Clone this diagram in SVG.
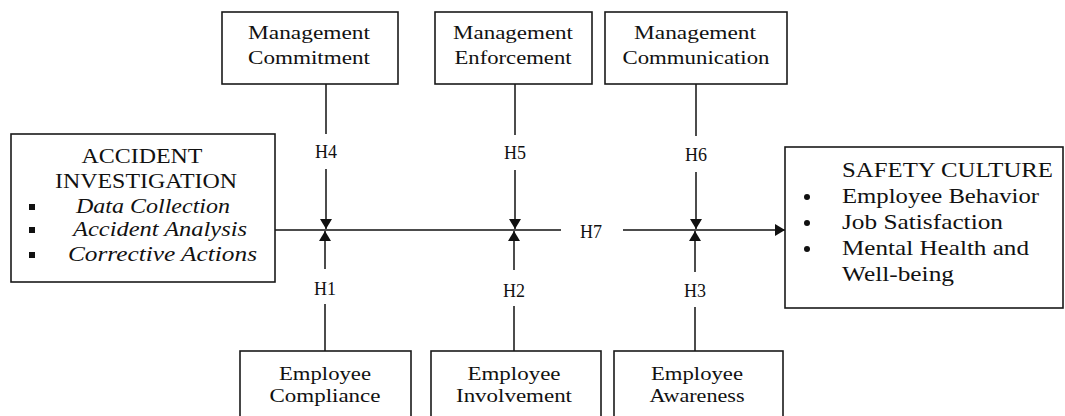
<svg xmlns="http://www.w3.org/2000/svg" width="1065" height="416" viewBox="0 0 1065 416">
<style>
.box{fill:#fff;stroke:#1a1a1a;stroke-width:1.6}
.ln{stroke:#111;stroke-width:1.5;fill:none}
text{font-family:"Liberation Serif","Times New Roman",serif;fill:#111}
.s{font-size:18px}
.b{font-size:22px}
.i{font-size:21px;font-style:italic}
.h{font-size:18px;text-anchor:middle}
</style>
<defs>
<marker id="ah" markerUnits="userSpaceOnUse" markerWidth="11" markerHeight="12" refX="10" refY="6" orient="auto">
<path d="M0,0 L10,6 L0,12 z" fill="#111"/>
</marker>
</defs>
<rect width="1065" height="416" fill="#fff"/>

<g id="connectors">
<line class="ln" x1="275" y1="230" x2="561" y2="230"/>
<line class="ln" x1="623" y1="230" x2="785" y2="230" marker-end="url(#ah)"/>
<line class="ln" x1="326" y1="84" x2="326" y2="134"/>
<line class="ln" x1="326" y1="169" x2="326" y2="229" marker-end="url(#ah)"/>
<line class="ln" x1="325" y1="351" x2="325" y2="304"/>
<line class="ln" x1="325" y1="269" x2="325" y2="231" marker-end="url(#ah)"/>
<line class="ln" x1="515" y1="84" x2="515" y2="135"/>
<line class="ln" x1="515" y1="170" x2="515" y2="229" marker-end="url(#ah)"/>
<line class="ln" x1="514" y1="351" x2="514" y2="306"/>
<line class="ln" x1="514" y1="270" x2="514" y2="231" marker-end="url(#ah)"/>
<line class="ln" x1="696" y1="84" x2="696" y2="136"/>
<line class="ln" x1="696" y1="172" x2="696" y2="229" marker-end="url(#ah)"/>
<line class="ln" x1="695" y1="351" x2="695" y2="307"/>
<line class="ln" x1="695" y1="272" x2="695" y2="231" marker-end="url(#ah)"/>
<text class="h" x="326" y="158">H4</text>
<text class="h" x="325" y="295">H1</text>
<text class="h" x="515" y="159">H5</text>
<text class="h" x="514" y="297">H2</text>
<text class="h" x="696" y="161">H6</text>
<text class="h" x="695" y="297">H3</text>
<text class="h" x="591" y="238">H7</text>
</g>

<g id="accident-investigation">
<rect class="box" x="11" y="134" width="264" height="148"/>
<text class="b" x="142" y="163" text-anchor="middle" textLength="121" lengthAdjust="spacingAndGlyphs">ACCIDENT</text>
<text class="b" x="146" y="188" text-anchor="middle" textLength="182" lengthAdjust="spacingAndGlyphs">INVESTIGATION</text>
<rect x="29" y="204" width="6" height="6" fill="#111"/>
<rect x="29" y="227" width="6" height="6" fill="#111"/>
<rect x="29" y="252" width="6" height="6" fill="#111"/>
<text class="i" x="76" y="213" textLength="154" lengthAdjust="spacingAndGlyphs">Data Collection</text>
<text class="i" x="73" y="236" textLength="174" lengthAdjust="spacingAndGlyphs">Accident Analysis</text>
<text class="i" x="68" y="261" textLength="189" lengthAdjust="spacingAndGlyphs">Corrective Actions</text>
</g>

<g id="management-commitment">
<rect class="box" x="222" y="12" width="176" height="72"/>
<text class="s" x="309" y="39" text-anchor="middle" textLength="122" lengthAdjust="spacingAndGlyphs">Management</text>
<text class="s" x="309" y="64" text-anchor="middle" textLength="122" lengthAdjust="spacingAndGlyphs">Commitment</text>
</g>

<g id="management-enforcement">
<rect class="box" x="435" y="12" width="157" height="72"/>
<text class="s" x="513" y="39" text-anchor="middle" textLength="120" lengthAdjust="spacingAndGlyphs">Management</text>
<text class="s" x="513" y="64" text-anchor="middle" textLength="117" lengthAdjust="spacingAndGlyphs">Enforcement</text>
</g>

<g id="management-communication">
<rect class="box" x="605" y="12" width="182" height="72"/>
<text class="s" x="695" y="39" text-anchor="middle" textLength="122" lengthAdjust="spacingAndGlyphs">Management</text>
<text class="s" x="696" y="64" text-anchor="middle" textLength="147" lengthAdjust="spacingAndGlyphs">Communication</text>
</g>

<g id="employee-compliance">
<rect class="box" x="240" y="351" width="171" height="80"/>
<text class="s" x="325" y="380" text-anchor="middle" textLength="92" lengthAdjust="spacingAndGlyphs">Employee</text>
<text class="s" x="325" y="402" text-anchor="middle" textLength="111" lengthAdjust="spacingAndGlyphs">Compliance</text>
</g>

<g id="employee-involvement">
<rect class="box" x="431" y="351" width="170" height="80"/>
<text class="s" x="514" y="380" text-anchor="middle" textLength="93" lengthAdjust="spacingAndGlyphs">Employee</text>
<text class="s" x="514" y="402" text-anchor="middle" textLength="116" lengthAdjust="spacingAndGlyphs">Involvement</text>
</g>

<g id="employee-awareness">
<rect class="box" x="614" y="351" width="169" height="80"/>
<text class="s" x="697" y="380" text-anchor="middle" textLength="92" lengthAdjust="spacingAndGlyphs">Employee</text>
<text class="s" x="697" y="402" text-anchor="middle" textLength="95" lengthAdjust="spacingAndGlyphs">Awareness</text>
</g>

<g id="safety-culture">
<rect class="box" x="785" y="147" width="278" height="161"/>
<text class="b" x="842" y="177" textLength="211" lengthAdjust="spacingAndGlyphs">SAFETY CULTURE</text>
<circle cx="807" cy="197" r="3" fill="#111"/>
<circle cx="807" cy="223" r="3" fill="#111"/>
<circle cx="807" cy="249" r="3" fill="#111"/>
<text class="b" x="842" y="203" textLength="197" lengthAdjust="spacingAndGlyphs">Employee Behavior</text>
<text class="b" x="842" y="229" textLength="161" lengthAdjust="spacingAndGlyphs">Job Satisfaction</text>
<text class="b" x="842" y="255" textLength="187" lengthAdjust="spacingAndGlyphs">Mental Health and</text>
<text class="b" x="842" y="281" textLength="112" lengthAdjust="spacingAndGlyphs">Well-being</text>
</g>
</svg>
